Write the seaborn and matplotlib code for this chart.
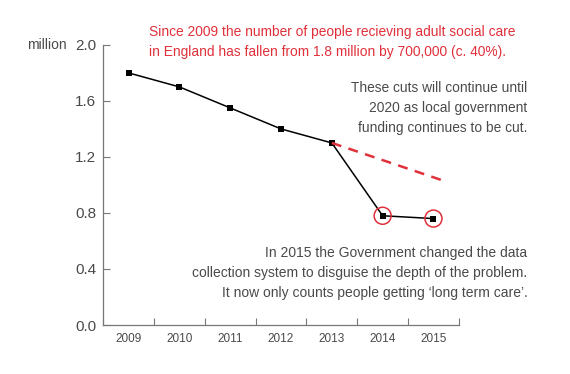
import matplotlib
matplotlib.use("Agg")
import matplotlib.pyplot as plt
import seaborn as sns
import pandas as pd
from matplotlib.ticker import FixedLocator

years = ["2009", "2010", "2011", "2012", "2013", "2014", "2015"]
values = [1.80, 1.70, 1.55, 1.40, 1.30, 0.78, 0.76]
highlight_years = ["2014", "2015"]
proj_x = [4.0, 6.2]          # from 2013 onward (category positions)
proj_values = [1.30, 1.03]
yticks = [0.0, 0.4, 0.8, 1.2, 1.6, 2.0]

sns.set_theme(style="white")
plt.rcParams["font.family"] = ["Liberation Sans", "DejaVu Sans"]

fig = plt.figure(figsize=(5.7, 3.74), dpi=100)
ax = fig.add_axes([0.181, 0.131, 0.624, 0.749])

df = pd.DataFrame({"x": range(len(years)), "v": values})
sns.lineplot(data=df, x="x", y="v", ax=ax, color="black", lw=1.1,
             marker="s", markersize=5, markeredgewidth=0, markerfacecolor="black")

hx = [years.index(y) for y in highlight_years]
hv = [values[i] for i in hx]
red = "#e0303a"
grey = "#4a4a4a"
ax.scatter(hx, hv, s=150, facecolors="none", edgecolors=red, linewidths=1.1, zorder=5)

ax.plot(proj_x, proj_values, color=red, lw=1.8, ls=(0, (4, 3)))

ax.set_xlim(-0.5, len(years) - 0.5)
ax.set_ylim(0, 2.0)
ax.xaxis.set_major_locator(FixedLocator([i - 0.5 for i in range(len(years) + 1)]))
ax.xaxis.set_minor_locator(FixedLocator(list(range(len(years)))))
ax.set_xticklabels([], minor=False)
ax.set_xticklabels(years, minor=True)
ax.tick_params(axis="x", which="major", direction="in", length=5, width=0.8, color="#777777", bottom=True)
ax.tick_params(axis="x", which="minor", length=0, labelsize=8.5, labelcolor=grey, pad=6)
ax.set_yticks(yticks)
ax.set_yticklabels([f"{t:.1f}" for t in yticks])
ax.tick_params(axis="y", direction="in", length=5, width=0.8, color="#777777", left=True,
               labelsize=11, labelcolor=grey, pad=5)
ax.set_xlabel("")
ax.set_ylabel("")
for s in ["top", "right"]:
    ax.spines[s].set_visible(False)
for s in ["left", "bottom"]:
    ax.spines[s].set_color("#777777")
    ax.spines[s].set_linewidth(0.9)

fig.text(0.117, 0.880, "million", ha="right", va="center", fontsize=10, color=grey)

fig.text(0.262, 0.888, "Since 2009 the number of people recieving adult social care\n"
         "in England has fallen from 1.8 million by 700,000 (c. 40%).",
         ha="left", va="center", fontsize=9.95, color=red, linespacing=1.5)

fig.text(0.925, 0.711, "These cuts will continue until\n2020 as local government\n"
         "funding continues to be cut.", ha="right", va="center", fontsize=9.95,
         color=grey, linespacing=1.55)

fig.text(0.925, 0.270, "In 2015 the Government changed the data\n"
         "collection system to disguise the depth of the problem.\n"
         "It now only counts people getting \u2018long term care\u2019.",
         ha="right", va="center", fontsize=10, color=grey, linespacing=1.55)

fig.savefig("out.png", dpi=100, facecolor="white")
